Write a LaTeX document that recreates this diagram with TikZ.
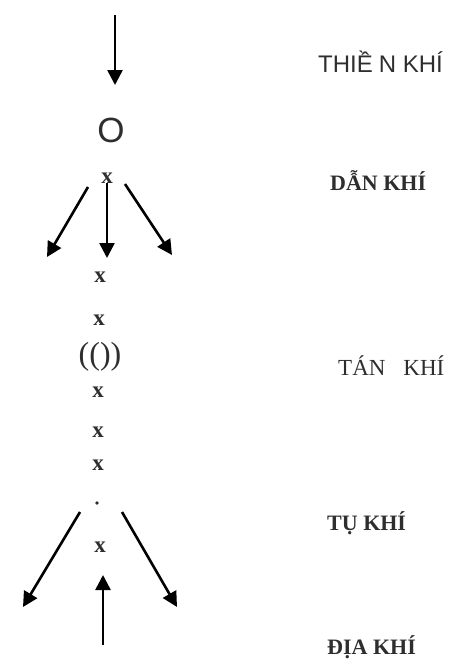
\documentclass[tikz,border=0pt]{standalone}
\usepackage{fontspec}
\setmainfont{Liberation Serif}
\newfontfamily\sanslab{Liberation Sans}
\usetikzlibrary{arrows.meta}
\definecolor{ink}{HTML}{2e2e2e}

\begin{document}
\begin{tikzpicture}[x=1pt,y=-1pt,
  qi/.style={-{Triangle[length=15pt,width=15pt]},line width=2.6pt},
  xmark/.style={font=\fontsize{23}{23}\selectfont\bfseries,text=ink,inner sep=0pt},
  lab/.style={text=ink,anchor=base west,inner sep=0pt},
  serlab/.style={lab,font=\fontsize{22}{23}\selectfont\bfseries}]
  \useasboundingbox (0,0) rectangle (455,665);
  % column of marks
  \node[font=\fontsize{35}{35}\selectfont\sanslab,text=ink,inner sep=0pt] (tam) at (111,130) {O};
  \node[xmark] (dan) at (107,178) {x};
  \node[xmark] (x1) at (100,277) {x};
  \node[xmark] (x2) at (99,320) {x};
  \node[font=\fontsize{32}{32}\selectfont,text=ink,inner sep=0pt] (tan) at (100,357) {(())};
  \node[xmark] (x3) at (98,392) {x};
  \node[xmark] (x4) at (98,432) {x};
  \node[xmark] (x5) at (98,465) {x};
  \node[circle,fill=ink,inner sep=1.3pt] (cham) at (97,503) {};
  \node[xmark] (tu) at (100,547) {x};
  % free ends
  \coordinate (tA) at (115,15);
  \coordinate (tB) at (115,85);
  \coordinate (dL0) at (88,187);
  \coordinate (dL) at (47,257);
  \coordinate (dM) at (107,258);
  \coordinate (dR0) at (125,184);
  \coordinate (dR) at (172,255);
  \coordinate (uL0) at (80,512);
  \coordinate (uL) at (23,607);
  \coordinate (uR0) at (122,512);
  \coordinate (uR) at (177,607);
  \coordinate (bA) at (103,645);
  \coordinate (bB) at (103,575);
  % arrows
  \draw[qi] (tA) -- (tB);
  \draw[qi] (dL0) -- (dL);
  \draw[qi] (dan.south) -- (dM);
  \draw[qi] (dR0) -- (dR);
  \draw[qi] (uL0) -- (uL);
  \draw[qi] (uR0) -- (uR);
  \draw[qi] (bA) -- (bB);
  % labels
  \node[lab,font=\fontsize{24}{25}\selectfont\sanslab] (thien) at (318,72) {THIỀ\kern6pt N KHÍ};
  \node[serlab] (dankhi) at (330,190) {DẪN KHÍ};
  \node[lab,font=\fontsize{23}{24}\selectfont] (tankhi) at (338,375) {TÁN\hspace{18pt}KHÍ};
  \node[serlab] (tukhi) at (327,530) {TỤ KHÍ};
  \node[serlab] (diakhi) at (327,654) {ĐỊA KHÍ};
\end{tikzpicture}
\end{document}
